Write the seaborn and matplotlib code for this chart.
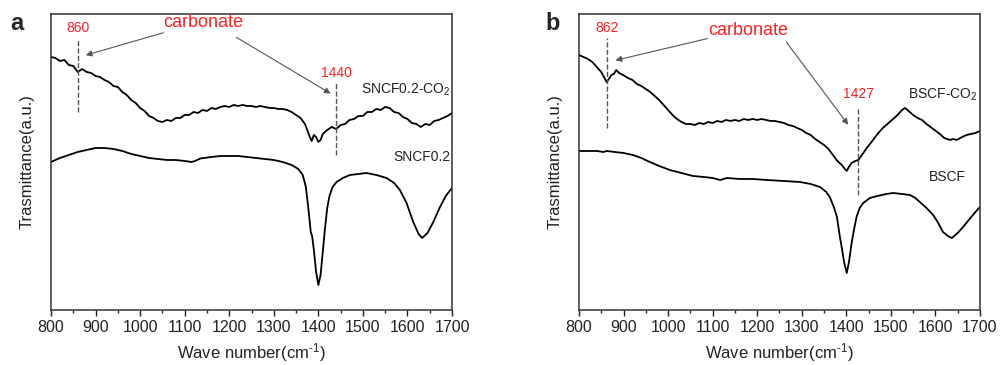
import numpy as np
import pandas as pd
import matplotlib
matplotlib.use("Agg")
import matplotlib.pyplot as plt
import seaborn as sns

sns.set_style("ticks")
plt.rcParams["font.family"] = ["Liberation Sans", "DejaVu Sans"]
plt.rcParams["mathtext.fontset"] = "custom"
plt.rcParams["mathtext.rm"] = "Liberation Sans"
plt.rcParams["mathtext.it"] = "Liberation Sans:italic"

# panel a: SNCF0.2 after CO2 exposure
a_co2_x = [800, 810, 820, 830, 840, 850, 860, 870, 880, 890, 900, 910, 920, 930, 940, 950,
           960, 970, 980, 990, 1000, 1010, 1020, 1030, 1040, 1050, 1060, 1070, 1080, 1090,
           1100, 1110, 1120, 1130, 1140, 1150, 1160, 1170, 1180, 1190, 1200, 1210, 1220,
           1230, 1240, 1250, 1260, 1270, 1280, 1290, 1300, 1310, 1320, 1330, 1340, 1350,
           1360, 1370, 1380, 1385, 1390, 1395, 1400, 1405, 1410, 1420, 1430, 1440, 1450,
           1460, 1470, 1480, 1490, 1500, 1510, 1520, 1530, 1540, 1550, 1560, 1570, 1580,
           1590, 1600, 1610, 1620, 1630, 1640, 1650, 1660, 1670, 1680, 1690, 1700]
a_co2_y = [253, 252, 249, 250, 245, 244, 238, 241, 238, 237, 234, 233, 230, 228, 224, 223,
           218, 215, 210, 207, 202, 199, 194, 192, 189, 188, 190, 189, 192, 192,
           195, 195, 198, 197, 200, 199, 202, 201, 203, 204, 203, 205, 204,
           205, 204, 204, 203, 204, 203, 202, 202, 201, 201, 200, 198, 195,
           192, 186, 174, 169, 175, 173, 168, 170, 176, 180, 183, 181, 185,
           186, 190, 191, 194, 194, 198, 198, 201, 200, 203, 202, 198, 197,
           193, 191, 187, 186, 183, 186, 185, 189, 190, 192, 194, 197]

# panel a: fresh SNCF0.2
a_x = [800, 820, 840, 860, 880, 900, 920, 940, 960, 980, 1000, 1020, 1040, 1060, 1080,
       1100, 1116, 1126, 1135, 1160, 1180, 1200, 1220, 1240, 1260, 1280, 1300, 1320, 1340,
       1355, 1365, 1372, 1378, 1383, 1386, 1390, 1395, 1400, 1405, 1410, 1415, 1420,
       1425, 1432, 1441, 1455, 1471, 1490, 1508, 1530, 1553, 1570, 1583, 1598, 1613,
       1625, 1633, 1645, 1658, 1672, 1686, 1700]
a_y = [148, 152, 155, 158, 160, 162, 162, 161, 159, 156, 154, 152, 151, 150, 150,
       149, 148, 149.5, 151.5, 153, 154, 154, 154, 153, 152, 151, 150, 148, 145,
       141, 135, 123, 100, 78, 74, 60, 38, 25, 35, 58, 82, 102,
       114, 123, 128, 132, 135, 136, 137, 135, 132, 127, 120, 107, 88,
       76, 72, 77, 88, 102, 114, 122]

# panel b: BSCF after CO2 exposure
b_co2_x = [800, 810, 820, 830, 840, 850, 855, 862, 867, 873, 878, 884, 890, 899, 910, 920,
           930, 940, 950, 960, 970, 980, 990, 1000, 1010, 1020, 1030, 1040, 1050, 1060,
           1070, 1080, 1090, 1100, 1110, 1120, 1130, 1140, 1150, 1160, 1170, 1180, 1190,
           1200, 1210, 1220, 1230, 1240, 1250, 1260, 1270, 1280, 1290, 1300, 1310, 1320,
           1330, 1340, 1350, 1360, 1370, 1380, 1390, 1395, 1401, 1407, 1412, 1420, 1427,
           1435, 1446, 1460, 1470, 1482, 1495, 1505, 1515, 1525, 1532, 1540, 1550, 1560,
           1570, 1580, 1595, 1610, 1620, 1633, 1640, 1648, 1660, 1670, 1680, 1690, 1700]
b_co2_y = [255, 253, 251, 248, 243, 238, 234, 228, 231, 235, 236, 240, 237, 235, 232, 230,
           226, 224, 221, 218, 214, 210, 205, 200, 195, 191, 188, 186, 186, 185,
           187, 186, 188, 187, 189, 188, 190, 189, 190, 189, 191, 190, 191,
           190, 191, 190, 189, 189, 188, 187, 185, 184, 182, 180, 177, 175,
           171, 168, 165, 161, 155, 149, 145, 142, 139, 144, 147, 149, 150,
           155, 162, 170, 176, 182, 187, 191, 195, 200, 202, 199, 195, 192,
           190, 186, 181, 176, 172, 170, 171, 170, 173, 175, 176, 177, 179]

# panel b: fresh BSCF
b_x = [800, 820, 840, 855, 862, 880, 900, 921, 940, 959, 980, 1004, 1030, 1056, 1080,
       1100, 1117, 1132, 1160, 1190, 1221, 1260, 1296, 1320, 1341, 1355, 1363, 1372,
       1379, 1386, 1390, 1395, 1401, 1406, 1412, 1418, 1423, 1430, 1438, 1453, 1470,
       1490, 1505, 1525, 1543, 1555, 1565, 1580, 1595, 1605, 1617, 1628, 1637, 1650,
       1662, 1675, 1688, 1700]
b_y = [159, 159, 159, 158, 159, 158, 157, 155, 152, 148, 144, 140, 137, 134, 133,
       132, 130, 132, 131, 131, 130, 129, 128, 126, 123, 118, 113, 103,
       93, 72, 62, 48, 37, 48, 67, 82, 93, 102, 107, 112, 114,
       116, 117, 116, 115, 112, 108, 102, 95, 88, 78, 74, 72, 77,
       83, 90, 97, 103]

fig = plt.figure(figsize=(10.02, 3.65), dpi=100)
ax_a = fig.add_axes([0.0509, 0.1507, 0.4002, 0.811])
ax_b = fig.add_axes([0.5778, 0.1507, 0.4002, 0.811])

red = "#ff2020"
arrow_kw = dict(arrowstyle="-|>", color="#555555", lw=0.8, mutation_scale=9)


def setup(ax):
    ax.set_xlim(800, 1700)
    ax.set_ylim(0, 296)
    ax.set_xticks(np.arange(800, 1701, 100))
    ax.set_xticks(np.arange(850, 1700, 100), minor=True)
    ax.set_yticks([])
    ax.tick_params(axis="x", which="major", direction="out", length=4, width=1,
                   labelsize=11.5, colors="#222222")
    ax.tick_params(axis="x", which="minor", direction="out", length=2.5, width=1)
    for s in ax.spines.values():
        s.set_linewidth(1.1)
        s.set_color("#333333")
    ax.set_xlabel(r"Wave number(cm$^{\text{-}1}$)", fontsize=12, labelpad=4, color="#222222")
    ax.set_ylabel("Trasmittance(a.u.)", fontsize=12, labelpad=12, color="#222222")


# panel a
sns.lineplot(x=a_co2_x, y=a_co2_y, ax=ax_a, color="black", lw=1.3)
sns.lineplot(x=a_x, y=a_y, ax=ax_a, color="black", lw=1.3)
setup(ax_a)
ax_a.plot([860, 860], [198, 270], ls="--", color="#555555", lw=1)
ax_a.plot([1440, 1440], [155, 227], ls="--", color="#555555", lw=1)
ax_a.text(860, 282, "860", color=red, fontsize=10, ha="center", va="center")
ax_a.text(1440, 237, "1440", color=red, fontsize=10, ha="center", va="center")
ax_a.text(1141, 287, "carbonate", color=red, fontsize=13, ha="center", va="center")
ax_a.annotate("", xy=(872, 254), xytext=(1058, 278), arrowprops=arrow_kw)
ax_a.annotate("", xy=(1433, 215), xytext=(1211, 274), arrowprops=arrow_kw)
ax_a.text(1697, 220, "SNCF0.2-CO$_2$", fontsize=10, ha="right", va="center", color="#222222")
ax_a.text(1697, 153, "SNCF0.2", fontsize=10, ha="right", va="center", color="#222222")
fig.text(0.017, 0.935, "a", fontsize=17, fontweight="bold", ha="center", va="center")

# panel b
sns.lineplot(x=b_co2_x, y=b_co2_y, ax=ax_b, color="black", lw=1.3)
sns.lineplot(x=b_x, y=b_y, ax=ax_b, color="black", lw=1.3)
setup(ax_b)
ax_b.plot([862, 862], [182, 272], ls="--", color="#555555", lw=1)
ax_b.plot([1427, 1427], [115, 203], ls="--", color="#555555", lw=1)
ax_b.text(862, 282, "862", color=red, fontsize=10, ha="center", va="center")
ax_b.text(1427, 216, "1427", color=red, fontsize=10, ha="center", va="center")
ax_b.text(1181, 279, "carbonate", color=red, fontsize=13, ha="center", va="center")
ax_b.annotate("", xy=(876, 249), xytext=(1094, 272), arrowprops=arrow_kw)
ax_b.annotate("", xy=(1408, 183), xytext=(1262, 270), arrowprops=arrow_kw)
ax_b.text(1695, 215, "BSCF-CO$_2$", fontsize=10, ha="right", va="center", color="#222222")
ax_b.text(1626, 133, "BSCF", fontsize=10, ha="center", va="center", color="#222222")
fig.text(0.552, 0.935, "b", fontsize=17, fontweight="bold", ha="center", va="center")

plt.savefig("out.png", dpi=100)
